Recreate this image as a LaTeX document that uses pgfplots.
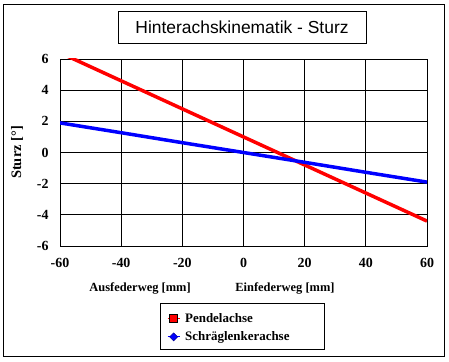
\documentclass[border=0pt]{standalone}
\usepackage{pgfplots}
\pgfplotsset{compat=1.18}
\usepackage{fontspec}
\setmainfont{Liberation Serif}
\newfontfamily\titlefont{Liberation Sans}
\begin{document}
\begin{tikzpicture}[x=1bp,y=1bp]
\path[use as bounding box] (0,0) rectangle (449,361);
\draw[line width=1bp] (3,5) rectangle (444,356);
\draw[line width=0.8bp] (118,318) rectangle (366,350);
\node[font=\titlefont\fontsize{17.5}{20}\selectfont] at (242,334) {Hinterachskinematik - Sturz};
\draw[line width=0.8bp] (160,12) rectangle (324,58);
\begin{axis}[
  at={(60bp,115bp)}, anchor=south west,
  scale only axis, width=367bp, height=187bp,
  clip mode=individual,
  xmin=-60, xmax=60, ymin=-6, ymax=6,
  xtick={-60,-40,...,60}, ytick={-6,-4,...,6},
  grid=major, major grid style={black, line width=0.8bp},
  axis line style={black, line width=0.8bp},
  major tick length=0pt,
  /pgf/number format/assume math mode=true,
  ticklabel style={font=\bfseries\fontsize{14}{16}\selectfont},
  xticklabel style={yshift=-9bp},
  yticklabel style={xshift=-8bp},
  ylabel={\bfseries\fontsize{14.5}{16}\selectfont Sturz [°]},
  ylabel style={at={(axis description cs:-0.117,0.5)}, anchor=center},
  legend style={at={(axis description cs:0.2915,-0.3476)}, anchor=north west,
    draw=none, fill=none, font=\bfseries\fontsize{13}{15}\selectfont,
    row sep=4bp, column sep=3bp, inner sep=0bp, cells={anchor=west}},
  legend cell align=left,
]
\addplot[red, line width=3.5bp,
  legend image code/.code={\draw[red,line width=1bp](0bp,0bp)--(12bp,0bp);
    \draw[black,fill=red,line width=0.5bp](2bp,-4bp) rectangle (10bp,4bp);}]
  coordinates {(-60,6.4) (-40,4.6) (-20,2.8) (0,1.0) (20,-0.8) (40,-2.6) (60,-4.4)};
\addlegendentry{Pendelachse}
\addplot[blue, line width=3.5bp,
  legend image code/.code={\draw[blue,line width=1bp](0bp,0bp)--(12bp,0bp);
    \draw[blue!60!black,fill=blue,line width=0.5bp](6bp,-4bp)--(10bp,0bp)--(6bp,4bp)--(2bp,0bp)--cycle;}]
  coordinates {(-60,1.9) (-40,1.27) (-20,0.63) (0,0) (20,-0.63) (40,-1.27) (60,-1.9)};
\addlegendentry{Schräglenkerachse}
\node[font=\bfseries\fontsize{12.5}{14}\selectfont] at (axis description cs:0.218,-0.225) {Ausfederweg [mm]};
\node[font=\bfseries\fontsize{12.5}{14}\selectfont] at (axis description cs:0.613,-0.225) {Einfederweg [mm]};
\end{axis}
\end{tikzpicture}
\end{document}
